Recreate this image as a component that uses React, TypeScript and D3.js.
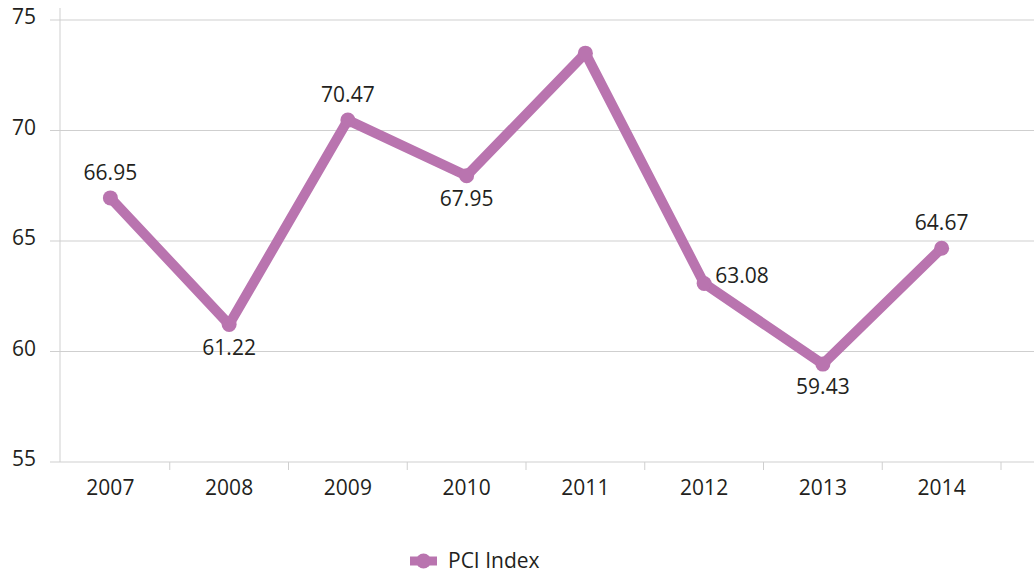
import * as d3 from "d3";

const years = ["2007", "2008", "2009", "2010", "2011", "2012", "2013", "2014"];
const pci = [66.95, 61.22, 70.47, 67.95, 73.5, 63.08, 59.43, 64.67];
const labelPos = ["above", "below", "above", "below", "none", "right", "below", "above"];
const yTicks = [55, 60, 65, 70, 75];

const W = 1034;
const H = 573;
const COLOR = "#b974af";
const TEXT = "#231f20";
const FONT = "'Open Sans', 'Noto Sans', sans-serif";
const FS = 21;

export default function App() {
  const x = d3.scaleBand().domain(years).range([51, 1001]);
  const y = d3.scaleLinear().domain([55, 75]).range([462, 20]);
  const cx = (yr: string) => (x(yr) ?? 0) + x.bandwidth() / 2;

  const line = d3
    .line<number>()
    .x((_, i) => cx(years[i]))
    .y((d) => y(d));

  const edges = years.slice(1).map((yr) => x(yr) ?? 0).concat([x.range()[1]]);

  return (
    <svg
      width={W}
      height={H}
      style={{ position: "absolute", left: 0, top: 0, fontFamily: FONT }}
    >
      <rect width={W} height={H} fill="#fff" />
      {yTicks.map((t) => (
        <g key={t}>
          <line x1={50} x2={W} y1={y(t)} y2={y(t)} stroke="#cfcfcf" strokeWidth={1} />
          <text x={36} y={y(t)} textAnchor="end" dy="0.2em" fontSize={FS} fill={TEXT}>
            {t}
          </text>
        </g>
      ))}
      <line x1={60} x2={60} y1={8} y2={462} stroke="#cfcfcf" />
      {edges.map((e, i) => (
        <line key={i} x1={e} x2={e} y1={462} y2={470} stroke="#cfcfcf" />
      ))}
      {years.map((yr) => (
        <text key={yr} x={cx(yr)} y={495} textAnchor="middle" fontSize={FS} fill={TEXT}>
          {yr}
        </text>
      ))}
      <path
        d={line(pci) ?? ""}
        fill="none"
        stroke={COLOR}
        strokeWidth={10}
        strokeLinejoin="round"
      />
      {pci.map((v, i) => (
        <circle key={i} cx={cx(years[i])} cy={y(v)} r={7.5} fill={COLOR} />
      ))}
      {pci.map((v, i) => {
        const p = labelPos[i];
        if (p === "none") return null;
        const px = cx(years[i]);
        const py = y(v);
        let tx = px;
        let ty = py;
        let anchor = "middle";
        if (p === "above") ty = py - 18;
        if (p === "below") ty = py + 30;
        if (p === "right") {
          tx = px + 11;
          ty = py;
          anchor = "start";
        }
        return (
          <text key={i} x={tx} y={ty} textAnchor={anchor} fontSize={FS} fill={TEXT}>
            {v.toFixed(2)}
          </text>
        );
      })}
      <g transform="translate(410,561)">
        <line x1={0} x2={27} y1={0} y2={0} stroke={COLOR} strokeWidth={9} />
        <circle cx={13.5} cy={0} r={7.5} fill={COLOR} />
        <text x={38} y={7} fontSize={FS} fill={TEXT}>
          PCI Index
        </text>
      </g>
    </svg>
  );
}
